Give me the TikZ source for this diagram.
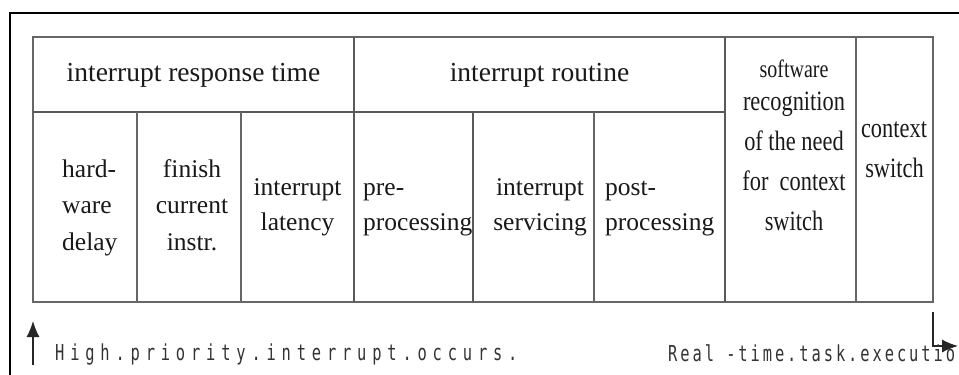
\documentclass[tikz,border=0pt]{standalone}
\usepackage{fontspec}
\setmainfont{Liberation Serif}
\newfontfamily\narrowserif[FakeStretch=0.8]{Liberation Serif}
\newfontfamily\tapeA[FakeStretch=0.7,LetterSpace=26.5]{DejaVu Sans Mono}
\newfontfamily\tapeB[FakeStretch=0.7,LetterSpace=13.3]{DejaVu Sans Mono}
\usetikzlibrary{arrows.meta}

\begin{document}
\begin{tikzpicture}[x=1pt,y=-1pt,
  outerframe/.style={line width=2pt,draw=black},
  thinrule/.style={line width=1.3pt,draw=black!60},
  thickrule/.style={line width=2.4pt,draw=black!65},
  headtext/.style={inner sep=0pt,anchor=base,text=black!90,font=\fontsize{27.5}{33}\selectfont},
  celltext/.style={inner sep=0pt,anchor=base,text=black!90,font=\fontsize{25.5}{30}\selectfont},
  leftcell/.style={celltext,anchor=base west},
  narrowtext/.style={inner sep=0pt,anchor=base,text=black!90,font=\narrowserif\fontsize{28}{34}\selectfont},
  tapetext/.style={inner sep=0pt,anchor=base west,text=black!80},
  timearrow/.style={line width=1.2pt,draw=black!85,-{Latex[length=16pt,width=13pt]}}
]
\clip (0,0) rectangle (959,375);

% outer frame
\draw[outerframe] (10,380) -- (10,13) -- (965,13);

% table grid
\draw[thinrule] (33,37) rectangle (933,302);
\draw[thickrule] (33,112) -- (725,112);
\draw[thinrule] (137,112) -- (137,302);
\draw[thinrule] (241,112) -- (241,302);
\draw[thickrule] (354,37) -- (354,302);
\draw[thickrule] (473,112) -- (473,302);
\draw[thinrule] (594,112) -- (594,302);
\draw[thickrule] (725,37) -- (725,302);
\draw[thinrule] (856,37) -- (856,302);

% header row
\node[headtext] (hresp) at (193.5,81) {interrupt response time};
\node[headtext] (hrout) at (539.5,81) {interrupt routine};

% hardware delay
\node[leftcell] (hw1) at (62,177) {hard-};
\node[leftcell] (hw2) at (62,213) {ware};
\node[leftcell] (hw3) at (62,250) {delay};
% finish current instruction
\node[celltext] (fi1) at (192,177) {finish};
\node[celltext] (fi2) at (192,213) {current};
\node[celltext] (fi3) at (192,250) {instr.};
% interrupt latency
\node[celltext] (il1) at (297.5,195) {interrupt};
\node[celltext] (il2) at (297.5,230) {latency};
% pre-processing
\node[leftcell] (pr1) at (363,195) {pre-};
\node[leftcell] (pr2) at (363,230) {processing};
% interrupt servicing
\node[celltext] (is1) at (540,195) {interrupt};
\node[celltext] (is2) at (540,230) {servicing};
% post-processing
\node[leftcell] (po1) at (605,195) {post-};
\node[leftcell] (po2) at (605,230) {processing};

% software recognition
\node[narrowtext,font=\narrowserif\fontsize{25}{30}\selectfont] (sr1) at (794,77) {software};
\node[narrowtext] (sr2) at (794,110) {recognition};
\node[narrowtext] (sr3) at (794,150) {of the need};
\node[narrowtext] (sr4) at (794,190) {for\ \ context};
\node[narrowtext] (sr5) at (794,230) {switch};
% context switch
\node[narrowtext] (cs1) at (894,137) {context};
\node[narrowtext] (cs2) at (894.5,177) {switch};

% time line markers
\coordinate (startfoot) at (33,365);
\coordinate (starttip) at (33,321);
\coordinate (endtop) at (933,312);
\coordinate (endcorner) at (933,346);
\coordinate (endtip) at (958,346);
\draw[timearrow] (startfoot) -- (starttip);
\draw[timearrow] (endtop) -- (endcorner) -- (endtip);

\node[tapetext,font=\tapeA\fontsize{22}{26}\selectfont] (occurs) at (55,360) {High.priority.interrupt.occurs.};
\node[tapetext,font=\tapeB\fontsize{22}{26}\selectfont] (exec) at (668,361) {Real -time.task.execution};
\end{tikzpicture}
\end{document}
